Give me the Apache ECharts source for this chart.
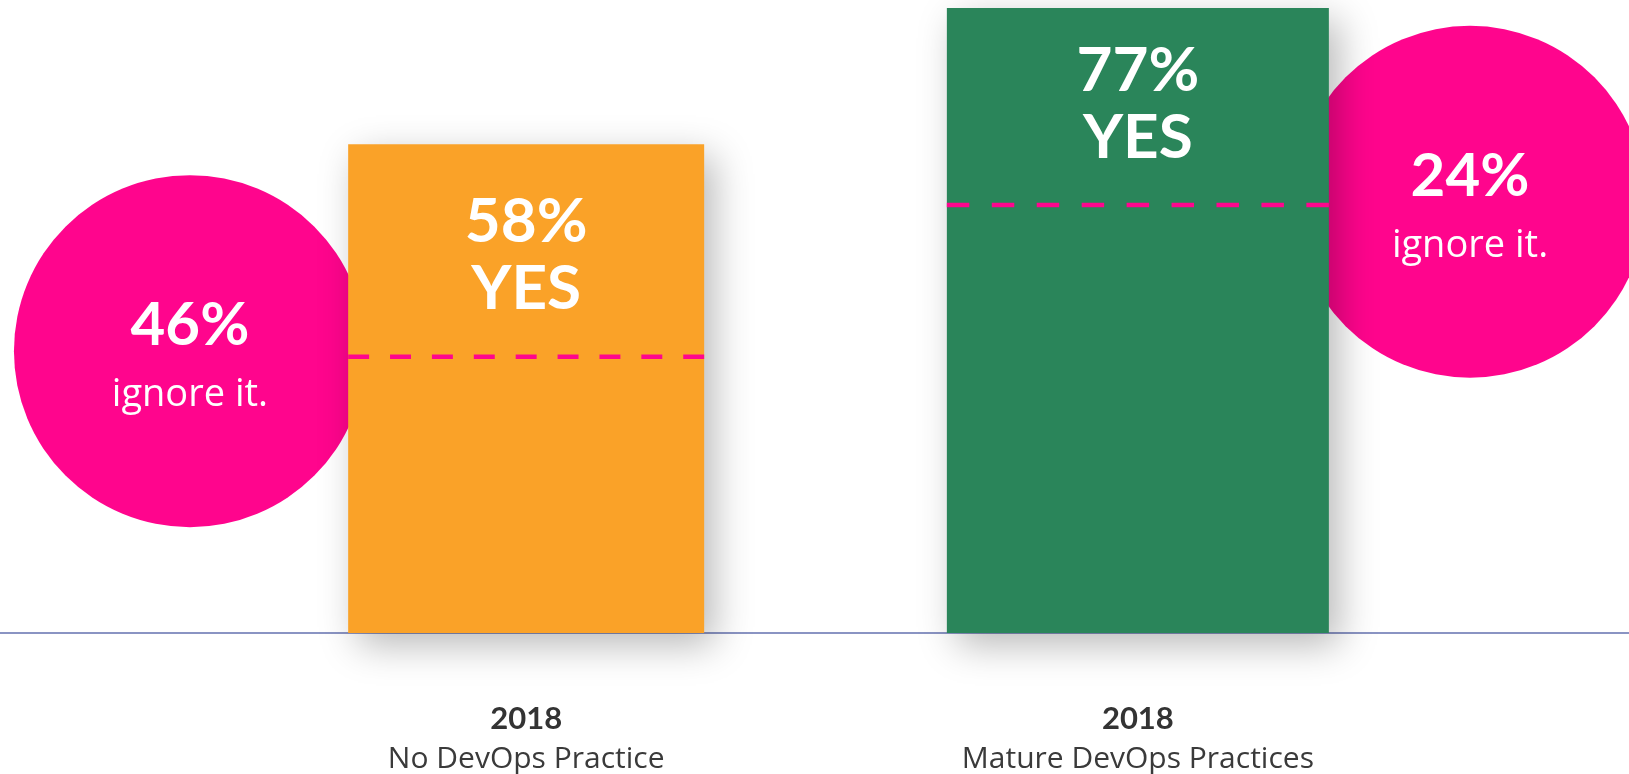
<!DOCTYPE html>
<html>
<head>
<meta charset="utf-8">
<title>DevOps 2018</title>
<script src="https://cdn.jsdelivr.net/npm/echarts@6/dist/echarts.min.js"></script>
<style>
html, body { margin: 0; padding: 0; background: #fff; }
#main { width: 1629px; height: 774px; }
</style>
</head>
<body>
<div id="main"></div>
<script>
// data
var categories = ['No DevOps Practice', 'Mature DevOps Practices'];
var years = ['2018', '2018'];
var yesPct = [58, 77];
var ignorePct = [46, 24];
var barLevel = [78.2, 100];     // drawn bar height (share of plot height)
var dashLevel = [44.2, 68.5];   // where the dashed line sits
var circleLevel = [45.1, 69.0]; // centre height of the "ignore it" circles

// layout only
var barSlot = [32.3, 69.85];    // x position on a 0-100 scale
var circleSlot = [11.66, 90.24];
var barWidths = [356, 382];
var barColors = ['#faa228', '#2a855a'];
var textTop = [44, 29];
var pink = '#ff058d';

window.onload = function () {
    var chart = echarts.init(document.getElementById('main'));

    var circleData = [];
    for (var i = 0; i < ignorePct.length; i++) {
        circleData.push([circleSlot[i], circleLevel[i], ignorePct[i]]);
    }
    var barData = [];
    for (var j = 0; j < yesPct.length; j++) {
        barData.push([barSlot[j], barLevel[j], dashLevel[j], yesPct[j]]);
    }

    var renderBar = function (params, api) {
        var i = params.dataIndex;
        var x = api.value(0);
        var base = api.coord([x, 0]);
        var top = api.coord([x, api.value(1)]);
        var dash = api.coord([x, api.value(2)]);
        var w = barWidths[i];
        var left = base[0] - w / 2;
        var seg = w / 17;
        return {
            type: 'group',
            children: [
                {
                    type: 'rect',
                    shape: { x: left, y: top[1], width: w, height: base[1] - top[1] },
                    style: {
                        fill: barColors[i],
                        shadowBlur: 36,
                        shadowColor: 'rgba(0,0,0,0.28)',
                        shadowOffsetX: 10,
                        shadowOffsetY: 12
                    }
                },
                {
                    type: 'line',
                    shape: { x1: left, y1: dash[1], x2: left + w, y2: dash[1] },
                    style: { stroke: pink, lineWidth: 4.5, lineDash: [seg, seg] }
                },
                {
                    type: 'text',
                    x: base[0],
                    y: top[1] + textTop[i],
                    style: {
                        text: api.value(3) + '%\nYES',
                        fill: '#fff',
                        fontFamily: 'Lato',
                        fontWeight: 'bold',
                        fontSize: 62,
                        lineHeight: 67,
                        align: 'center',
                        verticalAlign: 'top'
                    }
                },
                {
                    type: 'text',
                    x: base[0],
                    y: base[1] + 106,
                    style: {
                        text: '{y|' + years[i] + '}\n{c|' + categories[i] + '}',
                        align: 'center',
                        verticalAlign: 'middle',
                        rich: {
                            y: { fontFamily: 'Lato', fontWeight: 'bold', fontSize: 31, lineHeight: 40, fill: '#333' },
                            c: { fontFamily: 'Open Sans', fontSize: 30, lineHeight: 40, fill: '#3a3a3a' }
                        }
                    }
                }
            ]
        };
    };

    var option = {
        animation: false,
        grid: { left: 0, right: 0, top: 8, bottom: 141 },
        xAxis: {
            type: 'value',
            min: 0,
            max: 100,
            axisLine: { show: true, lineStyle: { color: '#8a94c3', width: 2 } },
            axisTick: { show: false },
            axisLabel: { show: false },
            splitLine: { show: false }
        },
        yAxis: {
            type: 'value',
            min: 0,
            max: 100,
            show: false
        },
        series: [
            {
                name: 'ignore it',
                type: 'scatter',
                silent: true,
                z: 1,
                symbolSize: 352,
                itemStyle: { color: pink, opacity: 1 },
                data: circleData,
                label: {
                    show: true,
                    position: 'inside',
                    offset: [0, 9],
                    formatter: function (p) {
                        return '{p|' + p.value[2] + '%}\n{t|ignore it.}';
                    },
                    rich: {
                        p: { fontFamily: 'Lato', fontWeight: 'bold', fontSize: 60, lineHeight: 70, color: '#fff' },
                        t: { fontFamily: 'Open Sans', fontSize: 38, lineHeight: 69, color: '#fff' }
                    }
                }
            },
            {
                name: 'yes',
                type: 'custom',
                silent: true,
                z: 3,
                renderItem: renderBar,
                data: barData
            }
        ]
    };
    chart.setOption(option);
};
</script>
</body>
</html>
